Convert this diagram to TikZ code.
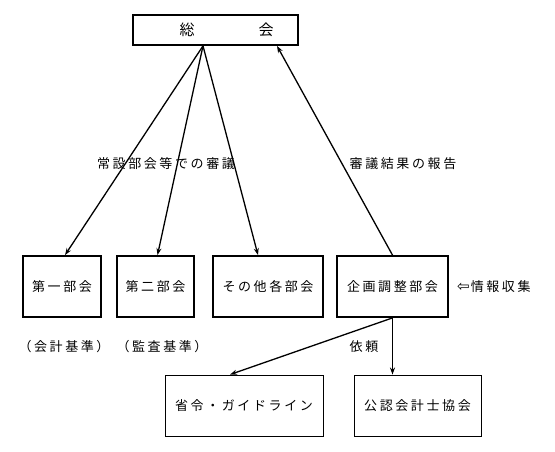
\documentclass[tikz,border=0pt]{standalone}
\usepackage{fontspec}
\usetikzlibrary{arrows.meta,calc}
\newfontfamily\jpf[LetterSpace=20]{Noto Sans CJK JP}
\newfontfamily\jptop{Noto Sans CJK JP}
\newfontfamily\symf{DejaVu Sans}
\begin{document}
\begin{tikzpicture}[x=1pt,y=-1pt,
  every node/.style={font=\jpf\fontsize{13}{15}\selectfont, inner sep=0pt},
  thickbox/.style={draw, line width=1.8pt, minimum height=61pt},
  thinbox/.style={draw, line width=0.9pt, minimum height=61pt},
  arr/.style={line width=1.3pt, -{Stealth[length=7pt,width=5pt]}},
  lbl/.style={}]
\useasboundingbox (0,0) rectangle (555,452);
% top box
\node[draw, line width=1.8pt, minimum width=165pt, minimum height=30pt,
      font=\jptop\fontsize{15}{17}\selectfont] (soukai) at (215.5,30)
      {\hspace{22pt}総\hspace{64pt}会};
% middle boxes
\node[thickbox, minimum width=78pt] (dai1) at (62,286.5) {第一部会};
\node[thickbox, minimum width=77pt] (dai2) at (155.5,286.5) {第二部会};
\node[thickbox, minimum width=110pt] (sonota) at (268,286.5) {その他各部会};
\node[thickbox, minimum width=111pt] (kikaku) at (392.5,286.5) {企画調整部会};
% bottom boxes
\node[thinbox, minimum width=158pt] (shourei) at (244,405.5) {省令・ガイドライン};
\node[thinbox, minimum width=127pt] (kounin) at (417.5,405.5) {公認会計士協会};
% labels
\node[lbl] (l1) at (166,164) {常設部会等での審議};
\node[lbl] (l2) at (403,164) {審議結果の報告};
\node[lbl] (l3) at (64,347) {（会計基準）};
\node[lbl] (l4) at (162,347) {（監査基準）};
\node[lbl] (l5) at (364,347) {依頼};
\node[lbl, anchor=west] (l6) at (457,287) {{\symf\fontsize{15}{15}\selectfont ⇦}\hspace{1pt}情報収集};
% arrows
\draw[arr] ([xshift=-12.5pt]soukai.south) -- ([xshift=3pt]dai1.north);
\draw[arr] ([xshift=-12.5pt]soukai.south) -- ([xshift=2pt]dai2.north);
\draw[arr] ([xshift=-12.5pt]soukai.south) -- ([xshift=-10pt]sonota.north);
\draw[arr] (kikaku.north) -- ([xshift=61.5pt]soukai.south);
\draw[arr] (kikaku.south) -- ([xshift=-14pt]shourei.north);
\draw[arr] (kikaku.south) -- (kikaku.south |- kounin.north);
\end{tikzpicture}
\end{document}
